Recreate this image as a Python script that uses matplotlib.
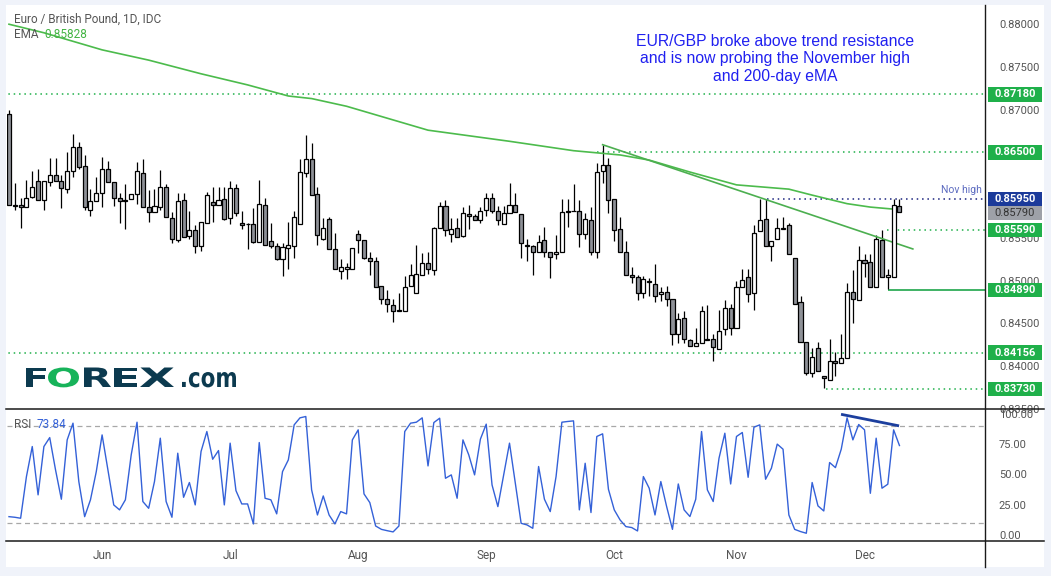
import numpy as np
import pandas as pd
import matplotlib
matplotlib.use('Agg')
import matplotlib.pyplot as plt
from matplotlib.patches import Rectangle, PathPatch
from matplotlib.lines import Line2D
from matplotlib.textpath import TextPath
from matplotlib.font_manager import FontProperties
from matplotlib.transforms import blended_transform_factory, Affine2D, IdentityTransform

plt.rcParams['font.family'] = ['Roboto', 'DejaVu Sans']

# ── Data ─────────────────────────────────────────────────────────────────────
START_DATE = '2021-05-10'

OPEN = [
    0.8695, 0.8589, 0.8588, 0.8586, 0.8598, 0.8616, 0.8594, 0.8615, 0.8624, 0.8617,
    0.8607, 0.8628, 0.8656, 0.8634, 0.8583, 0.8593, 0.8602, 0.8630, 0.8615, 0.8597,
    0.8594, 0.8596, 0.8601, 0.8626, 0.8586, 0.8580, 0.8586, 0.8609, 0.8573, 0.8547,
    0.8594, 0.8552, 0.8559, 0.8540, 0.8567, 0.8592, 0.8589, 0.8595, 0.8573, 0.8608,
    0.8567, 0.8566, 0.8566, 0.8545, 0.8589, 0.8546, 0.8540, 0.8525, 0.8538, 0.8541,
    0.8566, 0.8626, 0.8642, 0.8601, 0.8549, 0.8572, 0.8537, 0.8511, 0.8513, 0.8513,
    0.8555, 0.8548, 0.8526, 0.8523, 0.8494, 0.8478, 0.8471, 0.8465, 0.8464, 0.8494,
    0.8485, 0.8507, 0.8520, 0.8512, 0.8562, 0.8587, 0.8555, 0.8561, 0.8552, 0.8578,
    0.8575, 0.8571, 0.8583, 0.8597, 0.8582, 0.8566, 0.8579, 0.8589, 0.8578, 0.8542,
    0.8540, 0.8533, 0.8547, 0.8534, 0.8531, 0.8533, 0.8581, 0.8582, 0.8582, 0.8554,
    0.8571, 0.8533, 0.8628, 0.8635, 0.8595, 0.8560, 0.8534, 0.8506, 0.8504, 0.8486,
    0.8500, 0.8496, 0.8484, 0.8487, 0.8479, 0.8438, 0.8456, 0.8431, 0.8423, 0.8427,
    0.8430, 0.8432, 0.8420, 0.8443, 0.8468, 0.8444, 0.8493, 0.8504, 0.8485, 0.8558,
    0.8572, 0.8541, 0.8549, 0.8561, 0.8565, 0.8526, 0.8475, 0.8428, 0.8392, 0.8421,
    0.8388, 0.8384, 0.8406, 0.8403, 0.8409, 0.8487, 0.8477, 0.8524, 0.8522, 0.8492,
    0.8547, 0.8504, 0.8504, 0.8587,
]
HIGH = [
    0.8700, 0.8614, 0.8597, 0.8618, 0.8628, 0.8631, 0.8616, 0.8643, 0.8643, 0.8623,
    0.8650, 0.8672, 0.8662, 0.8647, 0.8607, 0.8621, 0.8645, 0.8640, 0.8615, 0.8602,
    0.8613, 0.8601, 0.8639, 0.8642, 0.8606, 0.8607, 0.8629, 0.8613, 0.8580, 0.8602,
    0.8602, 0.8582, 0.8565, 0.8569, 0.8604, 0.8609, 0.8609, 0.8609, 0.8617, 0.8613,
    0.8582, 0.8567, 0.8585, 0.8618, 0.8597, 0.8567, 0.8544, 0.8544, 0.8568, 0.8582,
    0.8642, 0.8670, 0.8661, 0.8610, 0.8573, 0.8574, 0.8556, 0.8525, 0.8520, 0.8538,
    0.8559, 0.8548, 0.8533, 0.8528, 0.8494, 0.8489, 0.8478, 0.8485, 0.8505, 0.8519,
    0.8542, 0.8532, 0.8534, 0.8563, 0.8592, 0.8594, 0.8573, 0.8573, 0.8586, 0.8589,
    0.8578, 0.8586, 0.8603, 0.8602, 0.8587, 0.8587, 0.8614, 0.8602, 0.8578, 0.8549,
    0.8542, 0.8553, 0.8563, 0.8534, 0.8553, 0.8595, 0.8595, 0.8613, 0.8594, 0.8579,
    0.8586, 0.8638, 0.8659, 0.8643, 0.8595, 0.8574, 0.8546, 0.8516, 0.8506, 0.8505,
    0.8503, 0.8519, 0.8492, 0.8494, 0.8479, 0.8462, 0.8464, 0.8432, 0.8444, 0.8470,
    0.8471, 0.8437, 0.8465, 0.8477, 0.8472, 0.8500, 0.8514, 0.8514, 0.8565, 0.8595,
    0.8595, 0.8546, 0.8573, 0.8574, 0.8567, 0.8526, 0.8482, 0.8428, 0.8421, 0.8428,
    0.8388, 0.8432, 0.8416, 0.8437, 0.8497, 0.8512, 0.8540, 0.8531, 0.8531, 0.8553,
    0.8559, 0.8513, 0.8595, 0.8595,
]
LOW = [
    0.8589, 0.8583, 0.8562, 0.8586, 0.8597, 0.8594, 0.8583, 0.8611, 0.8616, 0.8585,
    0.8602, 0.8621, 0.8630, 0.8583, 0.8576, 0.8593, 0.8586, 0.8615, 0.8587, 0.8567,
    0.8560, 0.8596, 0.8590, 0.8586, 0.8569, 0.8580, 0.8583, 0.8574, 0.8544, 0.8545,
    0.8551, 0.8549, 0.8532, 0.8535, 0.8567, 0.8568, 0.8589, 0.8571, 0.8566, 0.8576,
    0.8560, 0.8537, 0.8544, 0.8545, 0.8542, 0.8538, 0.8524, 0.8505, 0.8513, 0.8526,
    0.8566, 0.8621, 0.8600, 0.8542, 0.8548, 0.8537, 0.8513, 0.8502, 0.8502, 0.8513,
    0.8532, 0.8525, 0.8507, 0.8492, 0.8472, 0.8463, 0.8452, 0.8464, 0.8464, 0.8494,
    0.8485, 0.8506, 0.8508, 0.8507, 0.8562, 0.8552, 0.8545, 0.8551, 0.8551, 0.8560,
    0.8571, 0.8567, 0.8575, 0.8579, 0.8565, 0.8566, 0.8579, 0.8580, 0.8526, 0.8523,
    0.8506, 0.8533, 0.8528, 0.8503, 0.8525, 0.8533, 0.8563, 0.8581, 0.8539, 0.8549,
    0.8530, 0.8527, 0.8614, 0.8579, 0.8546, 0.8533, 0.8507, 0.8497, 0.8477, 0.8480,
    0.8482, 0.8475, 0.8476, 0.8470, 0.8425, 0.8427, 0.8427, 0.8423, 0.8423, 0.8427,
    0.8430, 0.8406, 0.8420, 0.8436, 0.8436, 0.8444, 0.8493, 0.8475, 0.8465, 0.8558,
    0.8540, 0.8523, 0.8549, 0.8560, 0.8531, 0.8473, 0.8428, 0.8389, 0.8387, 0.8394,
    0.8374, 0.8384, 0.8388, 0.8403, 0.8409, 0.8450, 0.8477, 0.8504, 0.8492, 0.8492,
    0.8504, 0.8490, 0.8504, 0.8580,
]
CLOSE = [
    0.8589, 0.8587, 0.8586, 0.8597, 0.8610, 0.8594, 0.8616, 0.8623, 0.8616, 0.8608,
    0.8628, 0.8656, 0.8633, 0.8586, 0.8593, 0.8602, 0.8630, 0.8615, 0.8597, 0.8593,
    0.8593, 0.8601, 0.8628, 0.8586, 0.8580, 0.8587, 0.8610, 0.8574, 0.8549, 0.8593,
    0.8551, 0.8559, 0.8541, 0.8569, 0.8600, 0.8589, 0.8594, 0.8572, 0.8608, 0.8579,
    0.8565, 0.8566, 0.8545, 0.8590, 0.8542, 0.8541, 0.8525, 0.8539, 0.8542, 0.8574,
    0.8627, 0.8642, 0.8600, 0.8553, 0.8562, 0.8537, 0.8513, 0.8516, 0.8516, 0.8538,
    0.8548, 0.8526, 0.8523, 0.8493, 0.8478, 0.8472, 0.8464, 0.8464, 0.8492, 0.8506,
    0.8508, 0.8521, 0.8513, 0.8561, 0.8587, 0.8559, 0.8560, 0.8551, 0.8579, 0.8575,
    0.8571, 0.8582, 0.8597, 0.8582, 0.8571, 0.8579, 0.8588, 0.8580, 0.8544, 0.8540,
    0.8533, 0.8545, 0.8534, 0.8528, 0.8533, 0.8580, 0.8580, 0.8581, 0.8555, 0.8572,
    0.8534, 0.8627, 0.8635, 0.8594, 0.8559, 0.8533, 0.8507, 0.8504, 0.8485, 0.8502,
    0.8498, 0.8482, 0.8487, 0.8479, 0.8438, 0.8455, 0.8432, 0.8423, 0.8427, 0.8464,
    0.8432, 0.8422, 0.8441, 0.8468, 0.8444, 0.8492, 0.8501, 0.8484, 0.8556, 0.8571,
    0.8540, 0.8546, 0.8561, 0.8560, 0.8531, 0.8473, 0.8428, 0.8392, 0.8410, 0.8394,
    0.8386, 0.8406, 0.8403, 0.8409, 0.8487, 0.8478, 0.8524, 0.8521, 0.8492, 0.8549,
    0.8504, 0.8506, 0.8589, 0.8580,
]

RSI = [
    15.1, 14.6, 13.8, 48.2, 73.0, 33.1, 73.0, 80.4, 53.7, 29.5,
    78.5, 92.3, 44.1, 15.1, 29.0, 52.3, 82.6, 53.7, 24.8, 20.7,
    29.0, 66.1, 93.1, 27.6, 22.0, 44.1, 79.9, 27.6, 14.6, 67.5,
    31.1, 43.3, 24.8, 68.9, 85.4, 62.5, 69.7, 24.8, 75.8, 36.6,
    25.6, 25.6, 9.1, 76.3, 30.3, 29.0, 17.4, 52.3, 62.0, 90.9,
    96.7, 97.8, 37.2, 16.5, 32.2, 16.5, 9.1, 19.3, 17.4, 78.5,
    86.8, 33.9, 26.7, 7.4, 4.6, 3.5, 2.5, 7.4, 85.4, 92.3,
    93.1, 96.7, 57.0, 92.8, 96.4, 46.8, 49.6, 30.3, 78.5, 66.1,
    49.6, 79.1, 91.5, 41.3, 23.4, 49.6, 75.8, 42.7,
    9.6, 8.3, 5.5, 56.5, 29.5, 19.3, 48.2, 93.1, 93.7, 94.2,
    20.7, 59.2, 18.5, 81.3, 83.5, 37.7, 20.7, 12.4, 6.9, 6.1,
    3.3, 48.2, 38.6, 16.5, 44.1, 23.4, 4.6, 42.1, 20.7, 15.2,
    29.5, 85.4, 37.2, 27.6, 63.4, 84.0, 42.1, 81.3, 84.6, 47.6,
    89.0, 90.9, 46.0, 55.1, 75.0, 70.8, 16.5, 4.6, 2.8, 1.4,
    43.3, 24.0, 19.8, 59.8, 55.6, 70.8, 96.7, 78.5, 91.2, 86.8,
    34.4, 79.9, 38.6, 41.9, 86.8, 73.84,
]

# 200-day EMA, sampled along the curve (bar index, value)
EMA_IDX = [0, 6, 16, 24, 33, 41, 48, 52, 58, 64, 72, 86, 97, 105, 110,
           117, 125, 134, 138, 144, 148, 153]
EMA_VAL = [0.8800, 0.8790, 0.8770, 0.8758, 0.8742, 0.8729, 0.8716, 0.8713,
           0.8704, 0.8692, 0.8676, 0.8663, 0.8652, 0.8647, 0.8641, 0.8627,
           0.8612, 0.8607, 0.8600, 0.8590, 0.8586, 0.8583]

TREND_IDX = [102, 155.3]
TREND_VAL = [0.8659, 0.8537]
RSI_DIV_IDX = [143.2, 152.7]
RSI_DIV_VAL = [99.4, 90.3]

# horizontal levels and the bar they start from
LEVELS = [0.87180, 0.86500, 0.85590, 0.84156, 0.83730]
LEVEL_START = [-1, 101, 150.8, -1, 140.4]
NOV_HIGH = 0.85950
NOV_HIGH_START = 130.2
SUPPORT = 0.84890
SUPPORT_START = 151
LAST_PRICE = 0.85790
EMA_LAST = 0.85828
RSI_LAST = 73.84

# scale ticks; 0.865 and 0.860 sit fully under the label boxes in the original
Y_TICKS = [0.880, 0.875, 0.870, 0.855, 0.850, 0.845, 0.840, 0.835]
RSI_TICKS = [0, 25, 50, 75, 100]

# ── Figure layout (pixel based) ──────────────────────────────────────────────
W, H = 1051, 576
fig = plt.figure(figsize=(W / 100, H / 100), dpi=100, facecolor='#f0f3fa')

def rect(x0, y0, x1, y1):
    return [x0 / W, 1 - y1 / H, (x1 - x0) / W, (y1 - y0) / H]

def fx(x):
    return x / W

def fy(y):
    return 1 - y / H

fig.patches.append(Rectangle((fx(6), fy(567)), fx(1044) - fx(6), fy(5) - fy(567),
                             transform=fig.transFigure, facecolor='white',
                             edgecolor='none', zorder=-10))

ax = fig.add_axes(rect(7, 5, 985, 409))
rx = fig.add_axes(rect(7, 409, 985, 541), sharex=ax)
for a in (ax, rx):
    a.set_facecolor('none')
    for s in a.spines.values():
        s.set_visible(False)

n = len(CLOSE)
idx = np.arange(n)
dates = pd.bdate_range(START_DATE, periods=n)

GREEN_LVL = '#1fb04a'
GRAY_TXT = '#555555'

# ── Candles ──────────────────────────────────────────────────────────────────
o = np.array(OPEN); h = np.array(HIGH); l = np.array(LOW); c = np.array(CLOSE)
up = c >= o
ax.vlines(idx, l, h, color='black', lw=0.9, zorder=2)
body_lo = np.minimum(o, c)
body_h = np.maximum(np.abs(c - o), 0.00004)
ax.bar(idx, body_h, bottom=body_lo, width=0.7,
       color=np.where(up, 'white', '#8e9197'), edgecolor='black',
       linewidth=0.9, zorder=3)

# EMA + trendline
ax.plot(EMA_IDX, EMA_VAL, color='#4cbb4c', lw=1.2, zorder=2)
ax.plot(TREND_IDX, TREND_VAL, color='#4caf50', lw=1.2, zorder=2)

xmax = 167.7
ax.set_xlim(-0.34, xmax)
ax.set_ylim(0.83497, 0.88225)

# levels
for p, s in zip(LEVELS, LEVEL_START):
    ax.hlines(p, s, xmax, colors=GREEN_LVL, linestyles=(0, (1, 2.5)), lw=1.1, zorder=1)
ax.hlines(NOV_HIGH, NOV_HIGH_START, xmax, colors='#1a237e', linestyles=(0, (1, 2.5)),
          lw=1.1, zorder=1)
ax.hlines(SUPPORT, SUPPORT_START, xmax, colors='#1ea64a', lw=1.2, zorder=1)

# right-hand price scale
ax.yaxis.tick_right()
ax.set_yticks(Y_TICKS)
ax.set_yticklabels([f'{t:.5f}' for t in Y_TICKS])
ax.tick_params(axis='y', length=0, pad=10, labelsize=8, labelcolor=GRAY_TXT)
ax.tick_params(axis='x', length=0, labelbottom=False)

# price label boxes
trans = blended_transform_factory(ax.transAxes, ax.transData)
bx0 = (988 - 7) / 978
bw = 54 / 978
bh = 14.5 / 8545
boxes = [(p, GREEN_LVL, 'white', 'bold') for p in LEVELS]
boxes += [(SUPPORT, GREEN_LVL, 'white', 'bold'), (NOV_HIGH, '#1b3a9a', 'white', 'bold'),
          (LAST_PRICE, '#9ea1a8', '#333333', 'normal')]
for p, fc, tc, fw in boxes:
    ax.add_patch(Rectangle((bx0, p - bh / 2), bw, bh, transform=trans,
                           facecolor=fc, edgecolor='none', clip_on=False, zorder=5))
    ax.text(bx0 + bw / 2, p, f'{p:.5f}', transform=trans, ha='center',
            va='center', color=tc, fontsize=8, fontweight=fw,
            clip_on=False, zorder=6)

# ── RSI pane ─────────────────────────────────────────────────────────────────
rx.plot(idx, RSI, color='#3461d8', lw=1.0, zorder=3)
rx.axhline(90, color='#a8a8a8', lw=0.9, ls=(0, (4, 3)), zorder=1)
rx.axhline(10, color='#a8a8a8', lw=0.9, ls=(0, (4, 3)), zorder=1)
rx.plot(RSI_DIV_IDX, RSI_DIV_VAL, color='#1c3f9e', lw=2.0, zorder=4)
rx.set_ylim(-5, 104)
rx.yaxis.tick_right()
rx.set_yticks(RSI_TICKS)
rx.set_yticklabels([f'{t:.2f}' for t in RSI_TICKS])
rx.tick_params(axis='y', length=0, pad=10, labelsize=8, labelcolor=GRAY_TXT)

month_start = [i for i in range(1, n) if dates[i].month != dates[i - 1].month]
rx.set_xticks(month_start)
rx.set_xticklabels([dates[i].strftime('%b') for i in month_start])
rx.tick_params(axis='x', length=0, pad=6, labelsize=8.5, labelcolor=GRAY_TXT)

# separators
for y in (409, 541):
    fig.add_artist(Line2D([fx(6), fx(1044)], [fy(y), fy(y)], color='#1a1a1a', lw=1.1))
fig.add_artist(Line2D([fx(985), fx(985)], [fy(5), fy(567)], color='#1a1a1a', lw=1.0))

# ── Texts ────────────────────────────────────────────────────────────────────
fig.text(fx(14), fy(19), 'Euro / British Pound, 1D, IDC', fontsize=8.5,
         color=GRAY_TXT, va='center')
t_ema = fig.text(fx(14), fy(35), 'EMA', fontsize=8.5, color=GRAY_TXT, va='center')
ax.annotate(f'{EMA_LAST:.5f}', xy=(1, 0.5), xycoords=t_ema, xytext=(4, 0),
            textcoords='offset points', va='center', fontsize=8.5, color='#43b443')
t_rsi = fig.text(fx(14), fy(425), 'RSI', fontsize=8.5, color=GRAY_TXT, va='center')
rx.annotate(f'{RSI_LAST:.2f}', xy=(1, 0.5), xycoords=t_rsi, xytext=(4, 0),
            textcoords='offset points', va='center', fontsize=8.5, color='#3461d8')

fig.text(fx(982), fy(190), 'Nov high', fontsize=7.5, color='#5c6bc0',
         ha='right', va='center')

fig.text(fx(775), fy(59),
         'EUR/GBP broke above trend resistance\nand is now probing the November high\nand 200-day eMA',
         ha='center', va='center', multialignment='center', fontsize=11.3,
         linespacing=1.22, color='#2020f0', family=['Liberation Sans', 'DejaVu Sans'])

# FOREX.com logo, letters stretched into their boxes (pixel coords)
DARK = '#0c3a4f'
LOGO_FONT = FontProperties(family='DejaVu Sans', weight='bold')

def logo_glyph(ch, x0, x1, base, cap, color):
    tp = TextPath((0, 0), ch, size=100, prop=LOGO_FONT)
    ext = tp.get_extents()
    sx = (x1 - x0) / ext.width
    sy = cap / ext.y1
    tr = Affine2D().translate(-ext.x0, 0).scale(sx, sy).translate(x0, H - base)
    fig.add_artist(PathPatch(tr.transform_path(tp), transform=IdentityTransform(),
                             facecolor=color, edgecolor='none'))

for ch, x0, x1, col in [('F', 26, 46, DARK), ('O', 48, 79, '#17b35a'),
                        ('R', 84, 111, DARK), ('E', 114, 137, DARK),
                        ('X', 140, 174, DARK)]:
    logo_glyph(ch, x0, x1, 387, 19.5, col)
logo_glyph('.com', 182, 236, 387, 15, DARK)

fig.savefig('out.png', dpi=100, facecolor=fig.get_facecolor())
